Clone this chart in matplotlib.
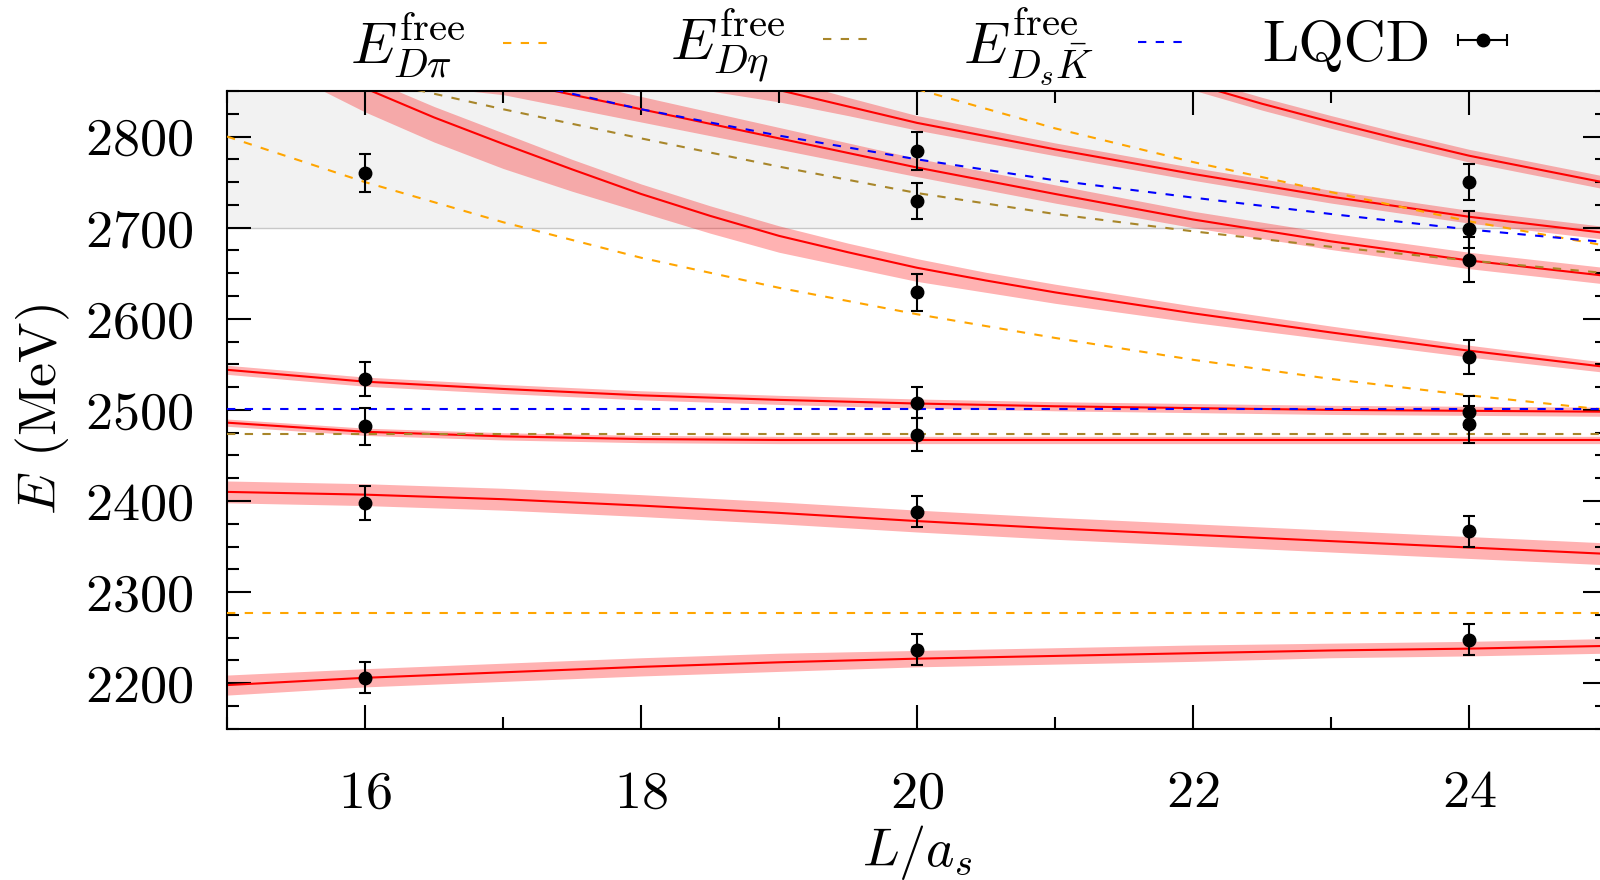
import numpy as np
import matplotlib
matplotlib.use("Agg")
import matplotlib.pyplot as plt
from matplotlib.ticker import MultipleLocator
from matplotlib.legend_handler import HandlerErrorbar

plt.rcParams["font.family"] = "serif"
plt.rcParams["font.serif"] = ["cmr10"]
plt.rcParams["mathtext.fontset"] = "cm"
plt.rcParams["axes.unicode_minus"] = False
plt.rcParams["axes.formatter.use_mathtext"] = True

# LQCD levels per volume (MeV)
L_16 = [2760, 2534, 2482, 2398, 2206]
err_16 = [21, 19, 20, 19, 17]
L_20 = [2784, 2729, 2629, 2508, 2473, 2388, 2237]
err_20 = [21, 20, 20, 17, 18, 17, 17]
L_24 = [2750, 2698, 2665, 2558, 2498, 2484, 2367, 2248]
err_24 = [20, 20, 25, 19, 17, 20, 17, 17]

# fitted spectrum (red lines with bands)
x_fit = [15, 16, 17, 18, 19, 20, 21, 22, 23, 24, 25]
fit_a = [2198, 2206, 2212, 2218, 2223, 2227, 2230, 2233, 2236, 2238, 2241]
band_a = [11, 10, 10, 10, 10, 9, 9, 9, 8, 8, 8]
fit_b = [2410, 2407, 2402, 2395, 2387, 2378, 2370, 2363, 2356, 2349, 2342]
band_b = [12, 12, 12, 12, 12, 12, 12, 12, 12, 12, 12]
fit_c = [2486, 2476, 2471, 2468, 2467, 2467, 2467, 2467, 2467, 2467, 2467]
band_c = [4, 4, 4, 4, 4, 4, 4, 4, 4, 4, 4]
fit_d = [2544, 2531, 2523, 2516, 2511, 2507, 2504, 2502, 2500, 2499, 2498]
band_d = [5, 5, 5, 5, 5, 5, 5, 5, 5, 5, 5]

x_e = [15.5, 16, 16.5, 17, 17.5, 18, 18.5, 19, 19.5, 20, 20.5, 21, 22, 23, 24, 25]
fit_e = [2885, 2853, 2821, 2792, 2764, 2737, 2713, 2691, 2673, 2656, 2642, 2629, 2606, 2585, 2565, 2547]
band_e_up = [14, 12, 12, 12, 11, 11, 11, 11, 10, 10, 9, 9, 8, 7, 6, 5]
band_e_dn = [20, 26, 27, 27, 24, 20, 19, 18, 16, 15, 13, 12, 10, 8, 7, 6]

x_f = [16.5, 17, 17.5, 18, 19, 20, 21, 22, 23, 24, 25]
fit_f = [2878, 2862, 2846, 2830, 2798, 2766, 2737, 2709, 2685, 2664, 2647]
band_f = [24, 16, 15, 14, 12, 10, 10, 9, 9, 9, 9]

x_g = [21.5, 22, 22.5, 23, 23.5, 24, 24.5, 25]
fit_g = [2880, 2858, 2836, 2816, 2797, 2779, 2764, 2749]
band_g = [8, 7, 7, 7, 7, 7, 7, 7]

x_h = [18.5, 19, 19.5, 20, 21, 22, 23, 24, 25]
fit_h = [2870, 2851, 2833, 2815, 2786, 2759, 2734, 2712, 2694]
band_h = [20, 13, 10, 8, 7, 7, 7, 7, 7]

# free two-meson energies
Dpi_0 = 2277
Deta_0 = 2474
DsK_0 = 2501
x_dpi1 = [15, 16, 17, 18, 19, 20, 21, 22, 23, 24, 25]
dpi_1 = [2800, 2750, 2706, 2667, 2634, 2605, 2579, 2555, 2534, 2516, 2500]
x_dpi2 = [20, 21, 22, 23, 24, 25]
dpi_2 = [2852, 2809, 2772, 2739, 2707, 2680]
x_deta1 = [16, 17, 18, 19, 20, 21, 22, 23, 24, 25]
deta_1 = [2864, 2830, 2798, 2767, 2738, 2715, 2696, 2679, 2664, 2650]
x_dsk1 = [17, 18, 19, 20, 21, 22, 23, 24, 25]
dsk_1 = [2864, 2830, 2801, 2775, 2752, 2733, 2715, 2698, 2684]

c_pi = "orange"
c_eta = "#a8862a"
c_dsk = "blue"
dash = (4, 4.5)

fig = plt.figure(figsize=(16, 8.8), dpi=100)
ax = fig.add_axes([0.1419, 0.1718, 0.8625, 0.7248])

# region above 2700 shaded
ax.axhspan(2700, 2850, color="#f2f2f2", zorder=0, lw=0)
ax.axhline(2700, color="#c8c8c8", lw=1, zorder=0.5)

fits = [
    (x_fit, fit_a, band_a, band_a),
    (x_fit, fit_b, band_b, band_b),
    (x_fit, fit_c, band_c, band_c),
    (x_fit, fit_d, band_d, band_d),
    (x_e, fit_e, band_e_up, band_e_dn),
    (x_f, fit_f, band_f, band_f),
    (x_g, fit_g, band_g, band_g),
    (x_h, fit_h, band_h, band_h),
]
for xs, ys, up, dn in fits:
    xs = np.array(xs)
    ys = np.array(ys)
    ax.fill_between(xs, ys - np.array(dn), ys + np.array(up), color="red", alpha=0.3, lw=0, zorder=1)
    ax.plot(xs, ys, color="red", lw=1.5, zorder=2)

# free energies
ax.axhline(Dpi_0, color=c_pi, lw=1.5, dashes=dash, zorder=3)
ax.plot(x_dpi1, dpi_1, color=c_pi, lw=1.5, dashes=dash, zorder=3)
ax.plot(x_dpi2, dpi_2, color=c_pi, lw=1.5, dashes=dash, zorder=3)
ax.axhline(Deta_0, color=c_eta, lw=1.5, dashes=dash, zorder=3)
ax.plot(x_deta1, deta_1, color=c_eta, lw=1.5, dashes=dash, zorder=3)
ax.axhline(DsK_0, color=c_dsk, lw=1.5, dashes=dash, zorder=3)
ax.plot(x_dsk1, dsk_1, color=c_dsk, lw=1.5, dashes=dash, zorder=3)

# lattice data
for L, vals, errs in [(16, L_16, err_16), (20, L_20, err_20), (24, L_24, err_24)]:
    ax.errorbar([L] * len(vals), vals, yerr=errs, fmt="o", color="black", ms=9,
                elinewidth=1.5, capsize=4.5, capthick=1.5, zorder=5)

ax.set_xlim(15, 25)
ax.set_ylim(2150, 2850)
ax.xaxis.set_major_locator(MultipleLocator(2))
ax.xaxis.set_minor_locator(MultipleLocator(1))
ax.yaxis.set_major_locator(MultipleLocator(100))
ax.yaxis.set_minor_locator(MultipleLocator(25))
ax.tick_params(which="both", direction="in", top=True, right=True, width=1.5, labelsize=39)
ax.tick_params(which="major", length=17)
ax.tick_params(which="minor", length=8.5)
ax.tick_params(axis="x", which="major", pad=30)
ax.tick_params(axis="y", which="major", pad=24)
for s in ax.spines.values():
    s.set_linewidth(1.5)

ax.set_xlabel(r"$L/a_s$", fontsize=39, labelpad=4)
ax.set_ylabel(r"$E$ (MeV)", fontsize=39, labelpad=10)

# legend: one entry per box, spaced like the original
h_pi, = ax.plot([], [], color=c_pi, lw=1.5, dashes=dash)
h_eta, = ax.plot([], [], color=c_eta, lw=1.5, dashes=dash)
h_dsk, = ax.plot([], [], color=c_dsk, lw=1.5, dashes=dash)
h_lq = ax.errorbar([np.nan], [np.nan], xerr=[1], fmt="o", color="black", ms=9,
                   elinewidth=1.5, capsize=4.5, capthick=1.5)
leg_handles = [h_pi, h_eta, h_dsk, h_lq]
leg_labels = [r"$E^{\rm free}_{D\pi}$", r"$E^{\rm free}_{D\eta}$",
              r"$E^{\rm free}_{D_s\bar{K}}$", "LQCD"]
leg_x = [0.219, 0.419, 0.602, 0.789]
leg_pad = [0.65, 0.65, 0.75, 0.45]
for h, lab, lx, tp in zip(leg_handles, leg_labels, leg_x, leg_pad):
    fig.legend([h], [lab], loc="center left", bbox_to_anchor=(lx, 0.948), frameon=False,
               markerfirst=False, fontsize=42, handlelength=0.88, handletextpad=tp,
               borderpad=0, borderaxespad=0,
               handler_map={type(h_lq): HandlerErrorbar(xerr_size=0.42)})

fig.savefig("out.png", dpi=100)
